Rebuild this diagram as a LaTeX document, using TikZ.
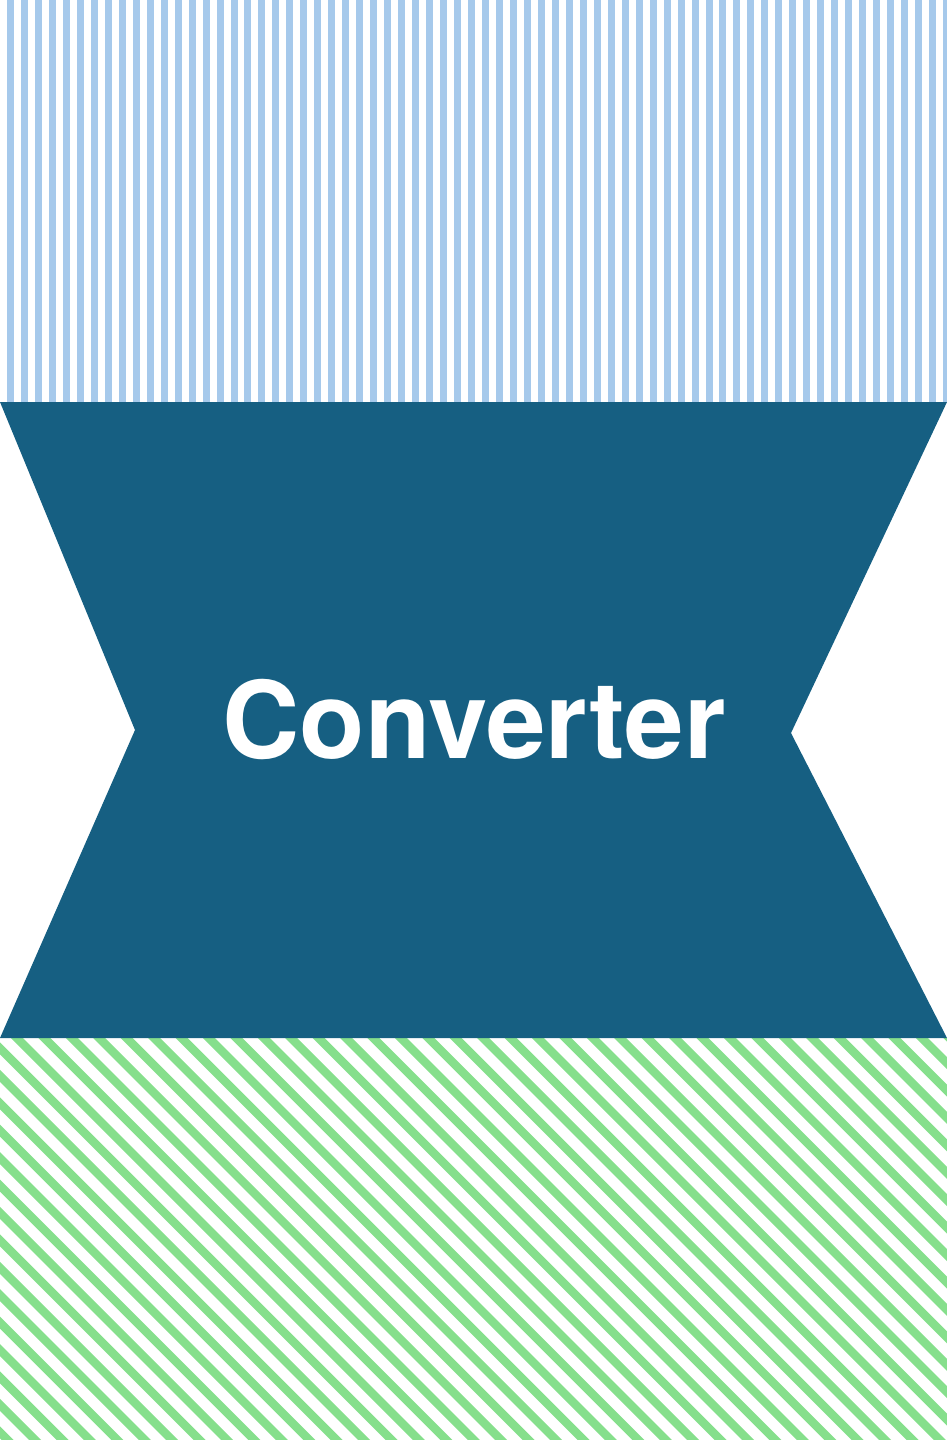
\documentclass[tikz,border=0pt]{standalone}
\usepackage{fontspec}
\setmainfont{TeX Gyre Heros}
\definecolor{darkblue}{HTML}{165F82}
\definecolor{lightblue}{HTML}{A6C9EB}
\definecolor{lightgreen}{HTML}{86DF8C}
\begin{document}
\begin{tikzpicture}[x=1pt,y=-1pt,
  bluestripe/.style={fill=lightblue},
  greenstripe/.style={fill=lightgreen},
  bodyshape/.style={fill=darkblue},
  labeltext/.style={text=white,font=\bfseries\fontsize{107}{110}\selectfont,inner sep=0pt}]
\useasboundingbox (0,0) rectangle (947,1440);
% top vertical stripes
\begin{scope}
\clip (0,0) rectangle (947,402);
\foreach \k in {0,...,68} {
  \fill[bluestripe] ({7+13.97*\k},0) rectangle ({14+13.97*\k},402);
}
\end{scope}
% bottom diagonal stripes
\begin{scope}
\clip (0,1038) rectangle (947,1440);
\foreach \k in {-14,...,75} {
  \pgfmathsetmacro{\c}{-1027+27.42*(\k-38)}
  \fill[greenstripe] ({\c+1038},1038) -- ({\c+12+1038},1038) -- ({\c+12+1440},1440) -- ({\c+1440},1440) -- cycle;
}
\end{scope}
% converter body
\path[bodyshape] (0,402) -- (947,402) -- (791,733) -- (947,1038) -- (0,1038) -- (135,730) -- cycle;
\node[labeltext,anchor=base] (conv) at (474,758) {Converter};
\end{tikzpicture}
\end{document}
